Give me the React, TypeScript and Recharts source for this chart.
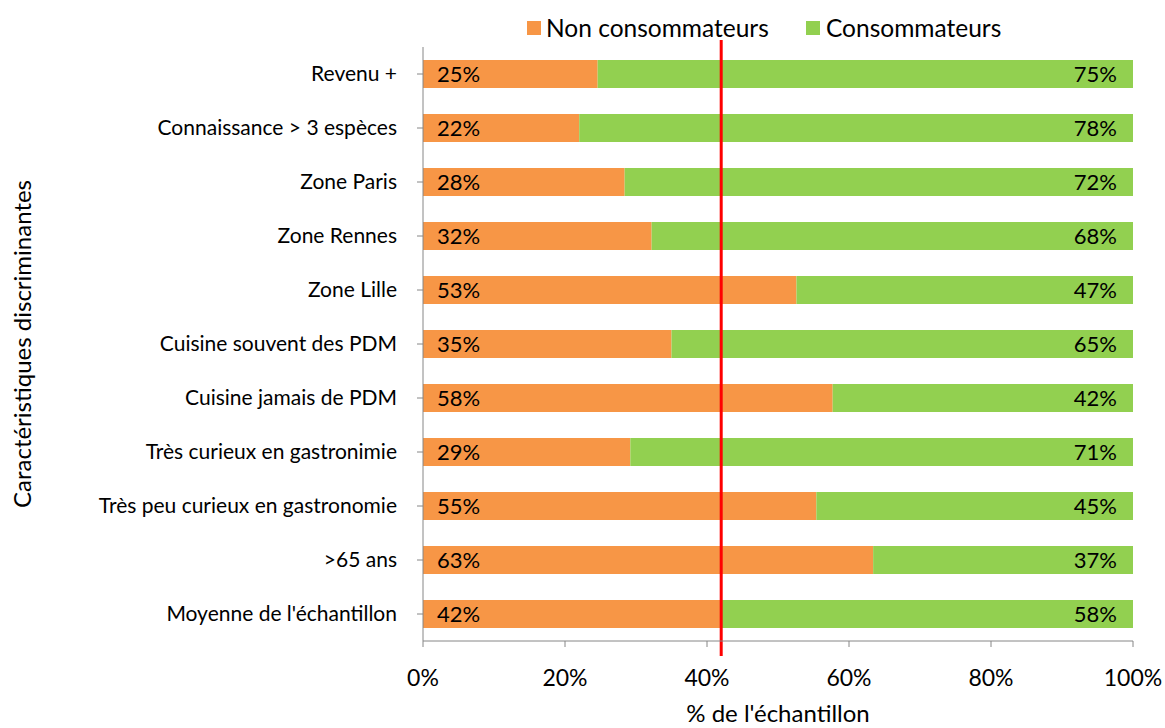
import React from "react";
import { BarChart, Bar, XAxis, YAxis, LabelList, ReferenceLine, Label } from "recharts";

const categories = [
  "Revenu +",
  "Connaissance > 3 espèces",
  "Zone Paris",
  "Zone Rennes",
  "Zone Lille",
  "Cuisine souvent des PDM",
  "Cuisine jamais de PDM",
  "Très curieux en gastronimie",
  "Très peu curieux en gastronomie",
  ">65 ans",
  "Moyenne de l'échantillon",
];
const nonConsommateurs = [24.6, 22, 28.4, 32.2, 52.6, 35, 57.7, 29.2, 55.4, 63.4, 42];
const consommateurs = [75.4, 78, 71.6, 67.8, 47.4, 65, 42.3, 70.8, 44.6, 36.6, 58];
const xTicks = [0, 20, 40, 60, 80, 100];
const moyenne = 42;

const data = categories.map((c, i) => ({
  cat: c,
  non: nonConsommateurs[i],
  cons: consommateurs[i],
}));

const FONT = "Lato, 'Open Sans', sans-serif";
const ORANGE = "#F79646";
const GREEN = "#92D050";
const AXIS = "#868686";

const LeftLabel = (props: any) => {
  const { x, y, height, value } = props;
  return (
    <text x={x + 14} y={y + height / 2} dy="0.36em" fontSize={22} fontFamily={FONT} fill="#000" textAnchor="start">
      {Math.round(value)}%
    </text>
  );
};
const RightLabel = (props: any) => {
  const { x, y, width, height, value } = props;
  return (
    <text x={x + width - 16} y={y + height / 2} dy="0.36em" fontSize={22} fontFamily={FONT} fill="#000" textAnchor="end">
      {Math.round(value)}%
    </text>
  );
};

const RedLine = (props: any) => {
  const { x1, y1, x2, y2 } = props;
  const top = Math.min(y1, y2);
  const bottom = Math.max(y1, y2);
  return <line x1={x1} y1={top - 7} x2={x2} y2={bottom + 15} stroke="#FF0000" strokeWidth={3} />;
};

const LegendContent = () => (
  <div style={{ position: "absolute", left: 0, top: 14, width: 1165, height: 30, fontFamily: FONT, fontSize: 24.5, color: "#000" }}>
    <div style={{ position: "absolute", left: 527, top: 7, width: 14, height: 14, background: ORANGE }} />
    <div style={{ position: "absolute", left: 546, top: 0, lineHeight: "28px", whiteSpace: "nowrap" }}>Non consommateurs</div>
    <div style={{ position: "absolute", left: 806, top: 7, width: 14, height: 14, background: GREEN }} />
    <div style={{ position: "absolute", left: 826, top: 0, lineHeight: "28px", whiteSpace: "nowrap" }}>Consommateurs</div>
  </div>
);

export default function App() {
  return (
    <div style={{ position: "absolute", left: 0, top: 0, width: 1165, height: 728, background: "#fff" }}>
      <BarChart
        width={1165}
        height={728}
        data={data}
        layout="vertical"
        margin={{ top: 47, right: 32, bottom: 57, left: 0 }}
        barSize={28}
      >
        <XAxis
          type="number"
          domain={[0, 100]}
          ticks={xTicks}
          tickFormatter={(v: number) => `${v}%`}
          axisLine={{ stroke: AXIS }}
          tickLine={{ stroke: AXIS }}
          tickSize={6}
          tickMargin={23}
          height={30}
          tick={{ fontSize: 23, fontFamily: FONT, fill: "#000" }}
          interval={0}
        >
          <Label value="% de l'échantillon" position="bottom" offset={34} style={{ fontSize: 24, fontFamily: FONT, fill: "#000" }} />
        </XAxis>
        <YAxis
          type="category"
          dataKey="cat"
          width={423}
          axisLine={{ stroke: AXIS }}
          tickLine={{ stroke: AXIS }}
          tickSize={6}
          tickMargin={20}
          tick={{ fontSize: 21, fontFamily: FONT, fill: "#000" }}
          interval={0}
        >
          <Label
            value="Caractéristiques discriminantes"
            angle={-90}
            position="insideLeft"
            offset={22}
            style={{ fontSize: 24, fontFamily: FONT, fill: "#000", textAnchor: "middle" }}
          />
        </YAxis>
        <YAxis yAxisId="ref" type="number" domain={[0, 1]} hide />
        <Bar dataKey="non" stackId="a" fill={ORANGE} isAnimationActive={false}>
          <LabelList dataKey="non" content={LeftLabel} />
        </Bar>
        <Bar dataKey="cons" stackId="a" fill={GREEN} isAnimationActive={false}>
          <LabelList dataKey="cons" content={RightLabel} />
        </Bar>
        <ReferenceLine x={moyenne} yAxisId="ref" ifOverflow="visible" shape={RedLine} />
      </BarChart>
      <LegendContent />
    </div>
  );
}
